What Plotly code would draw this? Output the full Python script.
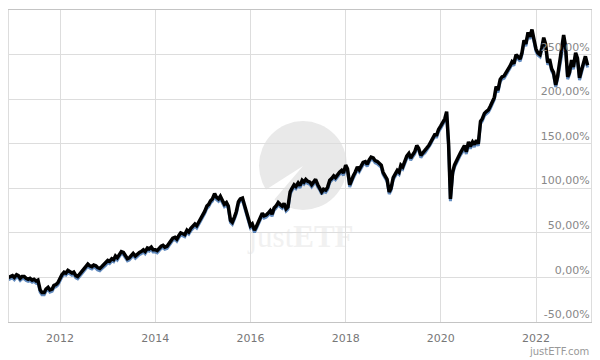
import pandas as pd
import plotly.graph_objects as go

# ---- data (semi-monthly performance, %) ----
start_date = "2010-12-01"
perf = [
    0, 1,
    # 2011
    2, 0, 3, 2, -1, 1, 1, -1, -2, -1, -3, -2, -4, -3, -14, -17, -17, -13, -11, -14, -13, -9, -8, -6,
    # 2012
    0, 3, 6, 5, 8, 7, 5, 6, 2, 1, 4, 6, 9, 11, 15, 13, 12, 14, 13, 11, 10, 12, 14, 16,
    # 2013
    19, 18, 21, 20, 24, 22, 26, 29, 28, 24, 21, 22, 25, 27, 24, 26, 28, 29, 31, 29, 33, 32, 34, 31,
    # 2014
    31, 30, 33, 35, 36, 34, 35, 38, 42, 44, 45, 43, 47, 50, 49, 48, 53, 51, 55, 57, 60, 58, 62, 66,
    # 2015
    70, 74, 80, 82, 86, 88, 94, 90, 88, 91, 86, 82, 84, 80, 64, 62, 68, 74, 85, 88, 89, 82, 72, 66,
    # 2016
    58, 60, 53, 57, 62, 66, 72, 69, 70, 72, 75, 71, 78, 80, 84, 82, 80, 83, 77, 79, 96, 100, 104, 102,
    # 2017
    106, 103, 109, 107, 110, 108, 107, 104, 108, 110, 104, 101, 96, 99, 98, 101, 109, 111, 114, 112, 116, 118, 120, 117,
    # 2018
    126, 122, 104, 110, 114, 118, 124, 121, 126, 129, 130, 127, 132, 135, 134, 131, 130, 128, 126, 118, 114, 110, 96, 100,
    # 2019
    112, 116, 120, 118, 126, 124, 132, 136, 139, 134, 138, 141, 148, 145, 137, 140, 142, 145, 148, 152, 157, 160, 160, 166,
    # 2020
    170, 173, 178, 186, 150, 88, 118, 126, 130, 135, 140, 143, 148, 141, 152, 147, 152, 149, 154, 150, 175, 178, 184, 186,
    # 2021
    188, 192, 198, 202, 214, 210, 222, 225, 226, 229, 233, 237, 242, 240, 250, 248, 245, 252, 266, 262, 275, 270, 278, 268,
    # 2022
    256, 252, 250, 258, 269, 262, 241, 245, 234, 230, 216, 225, 240, 250, 272, 260, 225, 230, 244, 236, 252, 246, 224, 232,
    # 2023
    242, 248, 238,
]
dates = pd.date_range(start_date, periods=len(perf), freq="SMS")

y_tickvals = [-50, 0, 50, 100, 150, 200, 250]
y_ticktext = ["-50,00%", "0,00%", "50,00%", "100,00%", "150,00%", "200,00%", "250,00%"]
shadow_offset = 2.5

# ---- layout helpers (pixel -> paper) ----
W, H = 600, 360
ML, MR, MT, MB = 9, 9, 10, 38
PW, PH = W - ML - MR, H - MT - MB


def px(x):
    return (x - ML) / PW


def py(y):
    return (H - MB - y) / PH


fig = go.Figure()
fig.add_trace(go.Scatter(
    x=dates, y=[v - shadow_offset for v in perf], mode="lines",
    line=dict(color="rgba(45,100,170,0.75)", width=3), hoverinfo="skip", showlegend=False))
fig.add_trace(go.Scatter(
    x=dates, y=perf, mode="lines",
    line=dict(color="#000000", width=3.5), showlegend=False))

shapes = [
    dict(type="circle", xref="paper", yref="paper", layer="below",
         x0=px(259), x1=px(347), y0=py(210), y1=py(121),
         fillcolor="#e9e9e9", line=dict(width=0)),
    dict(type="path", xref="paper", yref="paper", layer="below",
         path=f"M {px(256)} {py(196)} L {px(303)} {py(166)} L {px(262)} {py(214)} Z",
         fillcolor="#ffffff", line=dict(width=0)),
    dict(type="rect", xref="paper", yref="paper", layer="below",
         x0=px(246), x1=px(356), y0=py(248), y1=py(218),
         fillcolor="rgba(0,0,0,0)", line=dict(width=0),
         label=dict(text="just<b>ETF</b>",
                    font=dict(family="Liberation Serif", size=31, color="#f1f1f1"))),
]

fig.update_layout(
    width=W, height=H,
    margin=dict(l=ML, r=MR, t=MT, b=MB),
    paper_bgcolor="#ffffff", plot_bgcolor="#ffffff",
    font=dict(family="DejaVu Sans", size=11, color="#777777"),
    shapes=shapes,
    annotations=[dict(text="justETF.com", xref="paper", yref="paper",
                      x=1, y=py(351), xanchor="right", yanchor="middle",
                      showarrow=False, font=dict(size=10, color="#999999"))],
    xaxis=dict(type="date", range=["2010-12-05", "2023-02-27"],
               tick0="2012-01-01", dtick="M24", tickformat="%Y",
               showgrid=True, gridcolor="#dddddd", gridwidth=1,
               showline=True, linecolor="#c4c4c4", mirror=True,
               ticks="", ticklabelstandoff=6, zeroline=False,
               tickfont=dict(size=11, color="#777777")),
    yaxis=dict(range=[-50, 300], side="right",
               tickvals=y_tickvals, ticktext=y_ticktext,
               ticklabelposition="inside top",
               showgrid=True, gridcolor="#dddddd", gridwidth=1,
               showline=True, linecolor="#dddddd", mirror=True,
               zeroline=False, ticks="",
               tickfont=dict(size=11, color="#888888")),
    showlegend=False,
)

fig.write_html("out.html")
